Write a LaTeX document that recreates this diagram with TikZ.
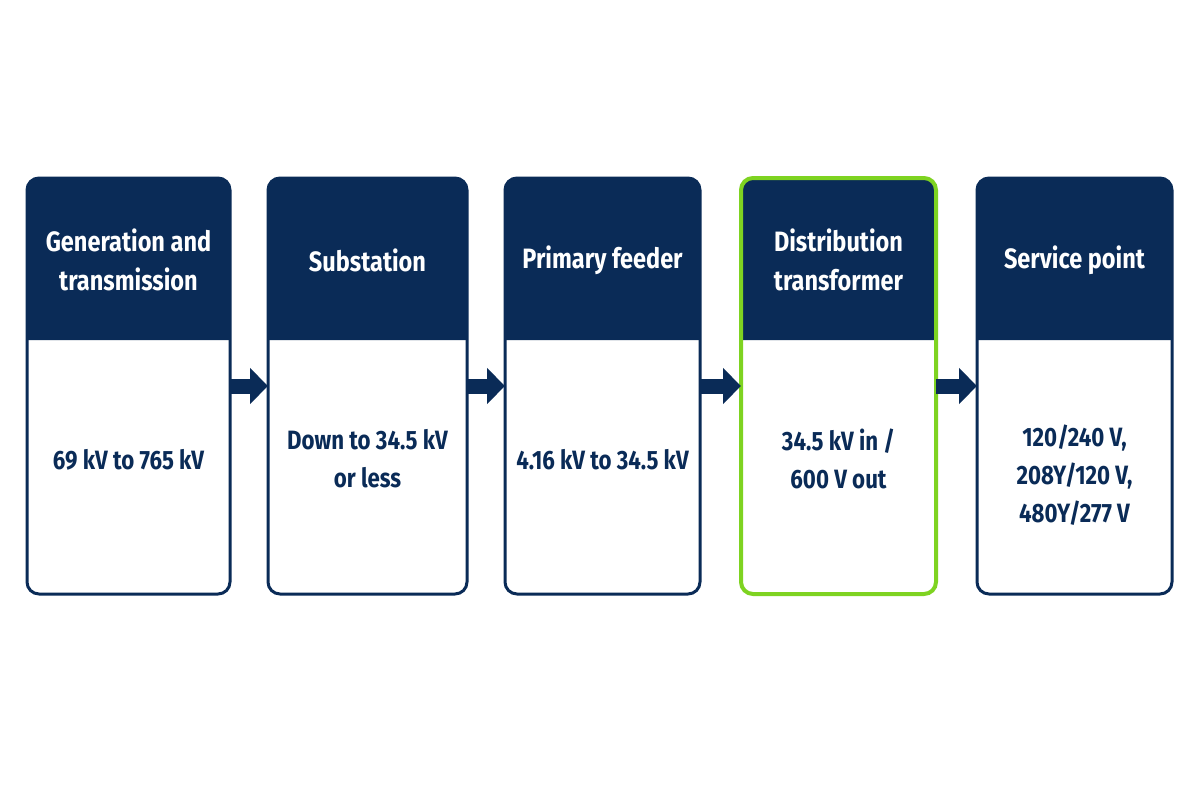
\documentclass[tikz,border=0pt]{standalone}
\usepackage{fontspec}
\setmainfont[FakeStretch=0.84]{Fira Sans}
\usetikzlibrary{arrows.meta}
\definecolor{navy}{RGB}{10,43,87}
\definecolor{limegreen}{RGB}{126,211,33}

\tikzset{
  headtext/.style={text=white,font=\bfseries\fontsize{28}{39}\selectfont,align=center},
  bodytext/.style={text=navy,font=\bfseries\fontsize{26.5}{38}\selectfont,align=center},
  flow/.style={navy,line width=15pt,-{Triangle[length=18pt,width=35pt]}},
}

% stage box: name, left, right, header, body, border colour, body y
\newcommand{\stagebox}[7]{%
  \fill[white,rounded corners=12] (#2,178) rectangle (#3,594);
  \fill[navy] (#2,340) [rounded corners=12] -- (#2,178) -- (#3,178) [sharp corners] -- (#3,340) -- cycle;
  \draw[#6,rounded corners=12] (#2,178) rectangle (#3,594);
  \node (#1) [inner sep=0,outer sep=0,minimum width={(#3-#2)*1pt},minimum height=416pt] at ({(#2+#3)/2},386) {};
  \node (#1-head) [headtext] at ({(#2+#3)/2},260) {#4};
  \node (#1-body) [bodytext] at ({(#2+#3)/2},#7) {#5};
}

\begin{document}
\begin{tikzpicture}[x=1pt,y=1pt,yscale=-1,xscale=1]
\fill[white] (0,0) rectangle (1200,800);
\useasboundingbox (0,0) rectangle (1200,800);

%Stages
\stagebox{gen}{27}{230}{Generation and\\transmission}{69 kV to 765 kV}{navy,line width=3pt}{460}
\stagebox{sub}{268}{467}{Substation}{Down to 34.5 kV\\or less}{navy,line width=3pt}{459}
\stagebox{feed}{505}{700}{Primary feeder}{4.16 kV to 34.5 kV}{navy,line width=3pt}{460}
\stagebox{dist}{741}{936}{Distribution\\transformer}{34.5 kV in /\\600 V out}{limegreen,line width=4pt}{459}
\stagebox{serv}{977}{1172}{Service point}{120/240 V,\\208Y/120 V,\\480Y/277 V}{navy,line width=3pt}{475}

%Arrows
\draw[flow] (gen.east) -- (sub.west);
\draw[flow] (sub.east) -- (feed.west);
\draw[flow] (feed.east) -- (dist.west);
\draw[flow] (dist.east) -- (serv.west);

\end{tikzpicture}
\end{document}
